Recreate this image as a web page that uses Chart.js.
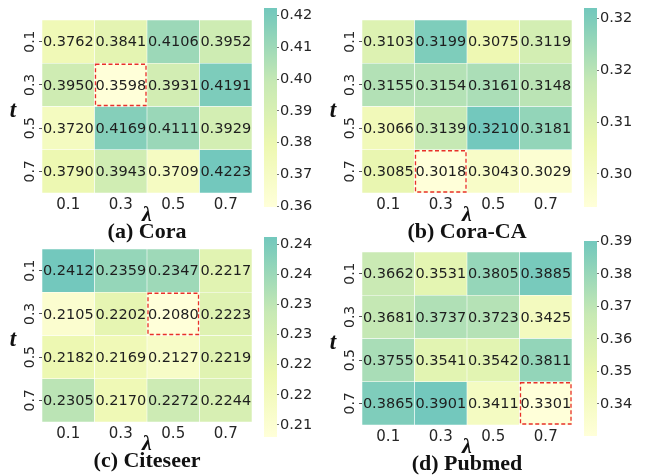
<!DOCTYPE html>
<html>
<head>
<meta charset="utf-8">
<script src="https://cdn.jsdelivr.net/npm/chart.js@4.4.1/dist/chart.umd.min.js"></script>
<style>
  body { margin: 0; background: #fff; width: 647px; height: 475px; position: relative; overflow: hidden; }
  canvas { position: absolute; }
</style>
</head>
<body>
<script>
// Axis categories
const lambdaLabels = ['0.1', '0.3', '0.5', '0.7'];
const tLabels = ['0.1', '0.3', '0.5', '0.7'];

// Heatmap values, one row per t (top to bottom), one column per lambda
const coraValues = [
    [0.3762, 0.3841, 0.4106, 0.3952],
    [0.3950, 0.3598, 0.3931, 0.4191],
    [0.3720, 0.4169, 0.4111, 0.3929],
    [0.3790, 0.3943, 0.3709, 0.4223]
];
const coraCaValues = [
    [0.3103, 0.3199, 0.3075, 0.3119],
    [0.3155, 0.3154, 0.3161, 0.3148],
    [0.3066, 0.3139, 0.3210, 0.3181],
    [0.3085, 0.3018, 0.3043, 0.3029]
];
const citeseerValues = [
    [0.2412, 0.2359, 0.2347, 0.2217],
    [0.2105, 0.2202, 0.2080, 0.2223],
    [0.2182, 0.2169, 0.2127, 0.2219],
    [0.2305, 0.2170, 0.2272, 0.2244]
];
const pubmedValues = [
    [0.3662, 0.3531, 0.3805, 0.3885],
    [0.3681, 0.3737, 0.3723, 0.3425],
    [0.3755, 0.3541, 0.3542, 0.3811],
    [0.3865, 0.3901, 0.3411, 0.3301]
];

// Colorbar ticks and their printed labels
const coraTicks = [0.36, 0.37, 0.38, 0.39, 0.40, 0.41, 0.42];
const coraTickLabels = ['0.36', '0.37', '0.38', '0.39', '0.40', '0.41', '0.42'];
const coraCaTicks = [0.305, 0.310, 0.315, 0.320];
const coraCaTickLabels = ['0.30', '0.31', '0.32', '0.32'];
const citeseerTicks = [0.210, 0.215, 0.220, 0.225, 0.230, 0.235, 0.240];
const citeseerTickLabels = ['0.21', '0.22', '0.22', '0.23', '0.23', '0.24', '0.24'];
const pubmedTicks = [0.34, 0.35, 0.36, 0.37, 0.38, 0.39];
const pubmedTickLabels = ['0.34', '0.35', '0.36', '0.37', '0.38', '0.39'];

const titles = ['(a) Cora', '(b) Cora-CA', '(c) Citeseer', '(d) Pubmed'];

// Panel placement on the page
const panels = [
    { title: titles[0], values: coraValues, ticks: coraTicks, tickLabels: coraTickLabels, left: 0, top: 0, cbTop: 8, cbBottom: 207 },
    { title: titles[1], values: coraCaValues, ticks: coraCaTicks, tickLabels: coraCaTickLabels, left: 320, top: 0, cbTop: 8, cbBottom: 207 },
    { title: titles[2], values: citeseerValues, ticks: citeseerTicks, tickLabels: citeseerTickLabels, left: 0, top: 229, cbTop: 237, cbBottom: 437 },
    { title: titles[3], values: pubmedValues, ticks: pubmedTicks, tickLabels: pubmedTickLabels, left: 320, top: 232, cbTop: 241, cbBottom: 436 }
];

// Truncated YlGnBu-like colormap
const cmapStops = [
    [0, [255, 255, 217]],
    [0.3125, [237, 248, 177]],
    [0.625, [199, 233, 180]],
    [0.9375, [127, 205, 187]],
    [1, [115, 200, 189]]
];

function cmap(t) {
    t = Math.max(0, Math.min(1, t));
    for (let i = 1; i < cmapStops.length; i++) {
        const [t1, c1] = cmapStops[i];
        const [t0, c0] = cmapStops[i - 1];
        if (t <= t1) {
            const f = (t - t0) / (t1 - t0);
            const c = c0.map((v, k) => Math.round(v + (c1[k] - v) * f));
            return `rgb(${c[0]}, ${c[1]}, ${c[2]})`;
        }
    }
    return 'rgb(115, 200, 189)';
}

function makeCanvas(left, top, width, height) {
    const canvas = document.createElement('canvas');
    canvas.width = width;
    canvas.height = height;
    canvas.style.left = left + 'px';
    canvas.style.top = top + 'px';
    canvas.style.width = width + 'px';
    canvas.style.height = height + 'px';
    document.body.appendChild(canvas);
    return canvas;
}

// Writes the cell values, the dashed box on the minimum and the 't' label
const cellPlugin = {
    id: 'cells',
    afterDatasetsDraw(chart, args, opts) {
        const ctx = chart.ctx;
        const area = chart.chartArea;
        ctx.save();
        ctx.font = '14.5px "DejaVu Sans"';
        ctx.fillStyle = '#1e1e1e';
        ctx.textAlign = 'center';
        ctx.textBaseline = 'middle';
        chart.data.datasets.forEach((ds, i) => {
            const meta = chart.getDatasetMeta(i);
            meta.data.forEach((bar, j) => {
                ctx.fillText(ds.values[j].toFixed(4), bar.x, (bar.y + bar.base) / 2 + 1);
            });
        });

        // dashed box around the smallest value
        const minBar = chart.getDatasetMeta(opts.minDataset).data[opts.minIndex];
        const b = minBar.getProps(['x', 'y', 'base', 'width'], true);
        ctx.strokeStyle = '#e8302a';
        ctx.lineWidth = 1.3;
        ctx.setLineDash([4, 2.5]);
        ctx.strokeRect(b.x - b.width / 2 + 1, b.y + 1, b.width - 2, b.base - b.y - 2);
        ctx.setLineDash([]);

        // upright 't' axis label
        ctx.font = 'italic bold 23px "Liberation Serif"';
        ctx.fillStyle = '#111';
        ctx.fillText('t', area.left - 29, (area.top + area.bottom) / 2 + 5);
        ctx.restore();
    }
};

function drawHeatmap(p, vmin, vmax) {
    const canvas = makeCanvas(p.left, p.top, 258, 245);

    // find smallest cell
    let minRow = 0, minCol = 0;
    p.values.forEach((row, r) => row.forEach((v, c) => {
        if (v < p.values[minRow][minCol]) { minRow = r; minCol = c; }
    }));

    // stacked bars: the first dataset is the bottom row (t = 0.7)
    const datasets = p.values.slice().reverse().map((row, r) => ({
        label: 't=' + tLabels[tLabels.length - 1 - r],
        data: row.map(() => 1),
        values: row,
        backgroundColor: row.map(v => cmap((v - vmin) / (vmax - vmin))),
        borderColor: 'rgba(255, 255, 255, 0.55)',
        borderWidth: 0.6,
        borderSkipped: false,
        barPercentage: 1,
        categoryPercentage: 1
    }));

    new Chart(canvas, {
        type: 'bar',
        data: { labels: lambdaLabels, datasets: datasets },
        options: {
            responsive: false,
            animation: false,
            devicePixelRatio: 1,
            layout: { padding: { top: 20, right: 6, left: 0, bottom: 2 } },
            scales: {
                x: {
                    stacked: true,
                    grid: { display: true, drawOnChartArea: false, tickLength: 3, color: 'rgba(0,0,0,0)' },
                    border: { display: false },
                    ticks: { font: { family: 'DejaVu Sans', size: 15 }, color: '#262626', padding: 0, maxRotation: 0 },
                    title: {
                        display: true,
                        text: 'λ',
                        color: '#111',
                        font: { family: 'Liberation Serif', size: 22, weight: 'bold', style: 'italic', lineHeight: 0.5 },
                        padding: { top: 0, bottom: 0 }
                    },
                    afterFit(scale) { scale.height = 28; }
                },
                y: {
                    stacked: true,
                    min: 0,
                    max: 4,
                    grid: { drawOnChartArea: false, tickLength: 3, color: '#555' },
                    border: { display: false },
                    afterBuildTicks(scale) {
                        scale.ticks = tLabels.map((_, i) => ({ value: tLabels.length - 0.5 - i }));
                    },
                    ticks: {
                        callback: v => tLabels[Math.round(tLabels.length - 0.5 - v)],
                        minRotation: 90,
                        maxRotation: 90,
                        crossAlign: 'center',
                        padding: -2,
                        font: { family: 'DejaVu Sans', size: 14 },
                        color: '#262626'
                    },
                    afterFit(scale) { scale.width = 42; }
                }
            },
            plugins: {
                legend: { display: false },
                tooltip: { enabled: false },
                title: {
                    display: true,
                    position: 'bottom',
                    fullSize: false,
                    text: p.title,
                    color: '#111',
                    font: { family: 'Liberation Serif', size: 22, weight: 'bold', lineHeight: 1 },
                    padding: 0
                },
                cells: { minDataset: p.values.length - 1 - minRow, minIndex: minCol }
            }
        },
        plugins: [cellPlugin]
    });
}

function drawColorbar(p, vmin, vmax) {
    const height = p.cbBottom - p.cbTop + 20;
    const canvas = makeCanvas(p.left + 255, p.cbTop - 10, 72, height);

    new Chart(canvas, {
        type: 'bar',
        data: {
            labels: [''],
            datasets: [{
                data: [[vmin, vmax]],
                backgroundColor: function(context) {
                    const area = context.chart.chartArea;
                    if (!area) return null;
                    const g = context.chart.ctx.createLinearGradient(0, area.bottom, 0, area.top);
                    cmapStops.forEach(([t, c]) => g.addColorStop(t, `rgb(${c[0]}, ${c[1]}, ${c[2]})`));
                    return g;
                },
                borderWidth: 0,
                barPercentage: 1,
                categoryPercentage: 1
            }]
        },
        options: {
            responsive: false,
            animation: false,
            devicePixelRatio: 1,
            layout: { padding: { top: 10, bottom: 10, left: 9, right: 0 } },
            scales: {
                x: { display: false },
                y: {
                    position: 'right',
                    min: vmin,
                    max: vmax,
                    grid: { drawOnChartArea: false, tickLength: 2, color: '#777' },
                    border: { display: false },
                    afterBuildTicks(scale) {
                        scale.ticks = p.ticks.map(v => ({ value: v }));
                    },
                    ticks: {
                        callback: (v, i) => p.tickLabels[i],
                        padding: 1,
                        font: { family: 'DejaVu Sans', size: 14.5 },
                        color: '#262626'
                    },
                    afterFit(scale) { scale.width = 50; }
                }
            },
            plugins: { legend: { display: false }, tooltip: { enabled: false } }
        }
    });
}

panels.forEach(p => {
    const flat = p.values.flat();
    const vmin = Math.min(...flat);
    const vmax = Math.max(...flat);
    drawHeatmap(p, vmin, vmax);
    drawColorbar(p, vmin, vmax);
});
</script>
</body>
</html>
